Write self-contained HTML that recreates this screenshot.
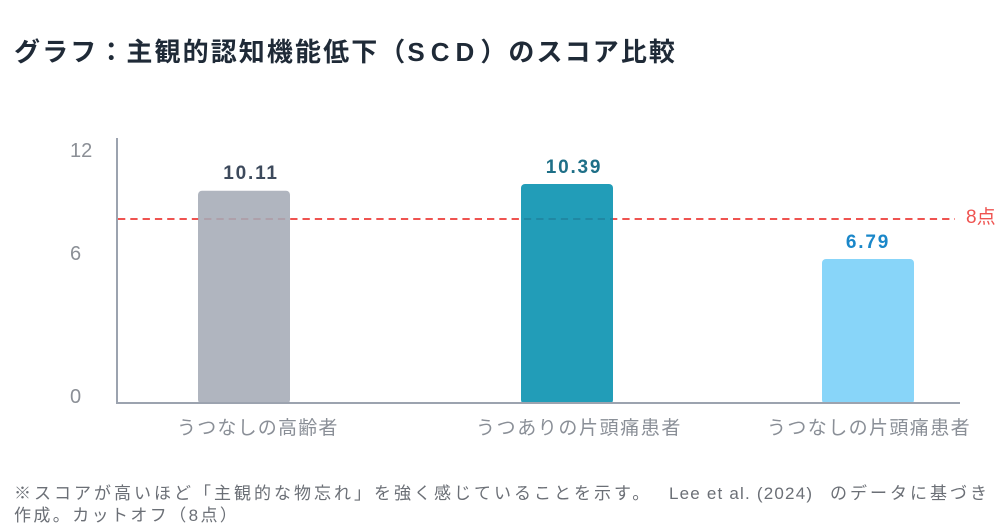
<!DOCTYPE html>
<html><head><meta charset="utf-8"><style>
html,body{margin:0;padding:0;background:#fff;}
svg{display:block;}
text{font-family:"Liberation Sans","Noto Sans CJK JP",sans-serif;}
</style></head><body>
<svg width="1007" height="531" viewBox="0 0 1007 531" xmlns="http://www.w3.org/2000/svg">
<rect width="1007" height="531" fill="#fff"/>
<!-- title -->
<text x="14" y="61" font-size="26" font-weight="bold" fill="#1f2a37" letter-spacing="2.1">グラフ：主観的認知機能低下（<tspan letter-spacing="6">SCD</tspan>）のスコア比較</text>

<!-- dashed cutoff line -->
<line x1="118" y1="219" x2="955" y2="219" stroke="#ef5350" stroke-width="2" stroke-dasharray="7.3 5"/>
<text x="966" y="223" font-size="19" fill="#ef5350">8点</text>

<!-- bars -->
<rect x="198" y="190.7" width="92" height="213" rx="4" fill="#a5abb6" fill-opacity="0.88"/>
<rect x="521" y="184" width="92" height="220" rx="4" fill="#038fae" fill-opacity="0.88"/>
<rect x="822" y="259" width="92" height="145" rx="4" fill="#77cff8" fill-opacity="0.88"/>

<!-- value labels -->
<text x="251" y="179" font-size="19" font-weight="bold" fill="#3d4a5c" text-anchor="middle" letter-spacing="1.8">10.11</text>
<text x="574" y="173" font-size="19" font-weight="bold" fill="#1e6f87" text-anchor="middle" letter-spacing="1.8">10.39</text>
<text x="868" y="248" font-size="19" font-weight="bold" fill="#1a87c9" text-anchor="middle" letter-spacing="1.8">6.79</text>

<!-- axes -->
<line x1="117" y1="138" x2="117" y2="404" stroke="#9ca3af" stroke-width="2"/>
<line x1="116" y1="403" x2="960" y2="403" stroke="#9ca3af" stroke-width="2"/>

<!-- ticks -->
<text x="70" y="157" font-size="20" fill="#8b8f96">12</text>
<text x="70" y="260" font-size="20" fill="#8b8f96">6</text>
<text x="70" y="403" font-size="20" fill="#8b8f96">0</text>

<!-- categories -->
<text x="177" y="434" font-size="19" fill="#8a8f97" letter-spacing="1.2">うつなしの高齢者</text>
<text x="476" y="434" font-size="19" fill="#8a8f97" letter-spacing="1.6">うつありの片頭痛患者</text>
<text x="767" y="434" font-size="19" fill="#8a8f97" letter-spacing="1.4">うつなしの片頭痛患者</text>

<!-- footnote -->
<text y="499" font-size="17" fill="#6b6f76" letter-spacing="3"><tspan x="14">※スコアが高いほど「主観的な物忘れ」を強く感じていることを示す。</tspan><tspan x="669" letter-spacing="1.2">Lee et al. (2024)</tspan><tspan x="830">のデータに基づき</tspan></text>
<text x="14" y="521" font-size="17" fill="#6b6f76" letter-spacing="2.4">作成。カットオフ（8点）</text>
</svg>
</body></html>
